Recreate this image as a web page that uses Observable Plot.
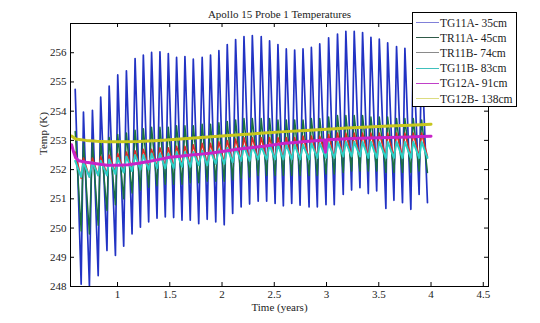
<!DOCTYPE html>
<html>
<head>
<meta charset="utf-8">
<script src="https://cdn.jsdelivr.net/npm/d3@7"></script>
<script src="https://cdn.jsdelivr.net/npm/@observablehq/plot@0.6"></script>
<style>
  html, body { margin: 0; padding: 0; background: #fff; }
  #wrap { position: relative; width: 540px; height: 323px; font-family: "Liberation Serif", "DejaVu Serif", serif; }
  #legend { position: absolute; left: 412px; top: 12px; width: 105px; height: 95px; border: 1px solid #000; background: #fff; box-sizing: border-box; padding-top: 2px; }
  .row { display: flex; align-items: center; height: 15.2px; font-size: 11.5px; color: #222; }
  .sw { width: 23px; height: 0; margin-left: 3px; margin-right: 1px; border-top: 1.2px solid; }
</style>
</head>
<body>
<div id="wrap"><div id="chart"></div><div id="legend"></div></div>
<script>
// ---- data ----
const seriesNames = ["TG11A- 35cm", "TR11A- 45cm", "TR11B- 74cm", "TG11B- 83cm", "TG12A- 91cm", "TG12B- 138cm"];
const seriesColors = ["#2233c4", "#1a7040", "#e02828", "#2ccfc6", "#c824c8", "#c6c61e"];
const legendColors = ["#8080d8", "#2f5a48", "#8a8a8a", "#40c0bc", "#c040c8", "#dcdc80"];

const peakTimes = [0.595, 0.674, 0.760, 0.839, 0.920, 1.002, 1.085, 1.168, 1.247, 1.326, 1.406, 1.486, 1.565, 1.645, 1.725, 1.81, 1.89, 1.97, 2.05, 2.13, 2.21, 2.29, 2.375, 2.455, 2.535, 2.615, 2.695, 2.775, 2.855, 2.935, 3.02, 3.105, 3.185, 3.265, 3.345, 3.425, 3.505, 3.585, 3.67, 3.75, 3.83, 3.91];
const troughTimes = [0.652, 0.731, 0.815, 0.899, 0.980, 1.059, 1.139, 1.219, 1.298, 1.378, 1.457, 1.537, 1.617, 1.696, 1.777, 1.858, 1.94, 2.021, 2.102, 2.183, 2.264, 2.346, 2.427, 2.508, 2.587, 2.667, 2.747, 2.833, 2.912, 2.995, 3.074, 3.16, 3.24, 3.32, 3.40, 3.48, 3.568, 3.645, 3.727, 3.807, 3.886, 3.966];

const tg11aPeaks = [254.75, 253.97, 254.03, 254.48, 254.86, 255.24, 255.38, 255.80, 255.92, 256.01, 256.03, 255.97, 255.84, 255.87, 255.78, 255.84, 255.92, 256.07, 256.28, 256.45, 256.55, 256.59, 256.55, 256.41, 256.28, 256.13, 256.09, 256.13, 256.18, 256.30, 256.51, 256.64, 256.73, 256.73, 256.69, 256.53, 256.47, 256.34, 256.21, 256.15, 256.1, 256.0];
const tg11aTroughs = [248.08, 248.02, 248.37, 249.23, 249.06, 249.38, 249.80, 250.03, 250.21, 250.34, 250.38, 250.36, 250.27, 250.27, 250.15, 250.3, 250.21, 250.11, 250.5, 250.72, 250.82, 250.92, 250.92, 250.84, 250.76, 250.84, 250.78, 250.72, 250.72, 250.80, 250.80, 251.15, 251.30, 251.38, 251.18, 251.27, 250.67, 250.95, 250.87, 250.64, 251.15, 250.87];

const tr11aPeaks = [253.3, 252.9, 252.9, 253.0, 253.1, 253.2, 253.25, 253.35, 253.4, 253.45, 253.45, 253.45, 253.5, 253.5, 253.5, 253.55, 253.55, 253.6, 253.65, 253.7, 253.75, 253.75, 253.75, 253.75, 253.7, 253.7, 253.7, 253.7, 253.75, 253.75, 253.8, 253.85, 253.85, 253.85, 253.85, 253.8, 253.8, 253.8, 253.75, 253.75, 253.75, 253.7];
const tr11aTroughs = [249.9, 249.8, 250.1, 250.6, 250.8, 251.0, 251.2, 251.3, 251.4, 251.45, 251.5, 251.5, 251.5, 251.55, 251.55, 251.6, 251.6, 251.6, 251.65, 251.7, 251.75, 251.8, 251.8, 251.8, 251.8, 251.8, 251.8, 251.8, 251.8, 251.85, 251.85, 251.9, 251.95, 251.95, 251.95, 251.95, 251.9, 251.9, 251.9, 251.9, 251.95, 251.9];

const tr11bPeaks = [252.6, 252.4, 252.4, 252.45, 252.5, 252.55, 252.6, 252.65, 252.7, 252.7, 252.75, 252.75, 252.8, 252.8, 252.85, 252.9, 252.9, 252.95, 253.0, 253.05, 253.1, 253.1, 253.1, 253.1, 253.1, 253.1, 253.1, 253.15, 253.15, 253.15, 253.2, 253.25, 253.25, 253.25, 253.25, 253.25, 253.25, 253.25, 253.25, 253.25, 253.25, 253.25];
const tr11bTroughs = [251.7, 251.75, 251.8, 251.85, 251.9, 251.95, 252.0, 252.0, 252.05, 252.1, 252.1, 252.1, 252.15, 252.15, 252.15, 252.2, 252.2, 252.25, 252.25, 252.3, 252.3, 252.35, 252.35, 252.35, 252.35, 252.35, 252.35, 252.35, 252.4, 252.4, 252.4, 252.45, 252.45, 252.45, 252.45, 252.45, 252.45, 252.45, 252.45, 252.45, 252.45, 252.45];

const tg11bPeaks = [252.3, 252.25, 252.25, 252.3, 252.35, 252.4, 252.45, 252.5, 252.5, 252.55, 252.55, 252.55, 252.6, 252.6, 252.6, 252.65, 252.65, 252.7, 252.75, 252.75, 252.8, 252.8, 252.8, 252.85, 252.85, 252.85, 252.85, 252.85, 252.9, 252.9, 252.9, 252.95, 252.95, 252.95, 252.95, 252.95, 252.95, 252.95, 252.95, 252.95, 252.95, 252.95];
const tg11bTroughs = [251.75, 251.75, 251.8, 251.8, 251.85, 251.9, 251.95, 252.0, 252.0, 252.05, 252.05, 252.05, 252.1, 252.1, 252.15, 252.15, 252.2, 252.2, 252.25, 252.3, 252.3, 252.35, 252.35, 252.35, 252.35, 252.35, 252.35, 252.35, 252.4, 252.4, 252.4, 252.45, 252.45, 252.45, 252.4, 252.4, 252.4, 252.4, 252.4, 252.4, 252.4, 252.4];

const tg12aTimes = [0.56, 0.58, 0.60, 0.63, 0.70, 0.80, 0.90, 1.00, 1.10, 1.20, 1.30, 1.40, 1.50, 1.60, 1.70, 1.80, 1.90, 2.00, 2.10, 2.20, 2.30, 2.40, 2.50, 2.60, 2.70, 2.80, 2.90, 2.98, 2.99, 3.00, 3.10, 3.20, 3.30, 3.40, 3.50, 3.60, 3.70, 3.80, 3.90, 4.00];
const tg12aValues = [252.85, 252.6, 252.4, 252.3, 252.25, 252.2, 252.15, 252.15, 252.17, 252.22, 252.28, 252.35, 252.42, 252.46, 252.5, 252.53, 252.57, 252.62, 252.67, 252.72, 252.76, 252.8, 252.85, 252.9, 252.93, 252.96, 252.99, 253.01, 252.6, 253.02, 253.04, 253.06, 253.07, 253.08, 253.09, 253.1, 253.11, 253.12, 253.13, 253.14];

const tg12bTimes = [0.56, 0.60, 0.70, 0.80, 0.90, 1.00, 1.20, 1.40, 1.60, 1.80, 2.00, 2.20, 2.40, 2.60, 2.80, 3.00, 3.20, 3.40, 3.60, 3.80, 4.00];
const tg12bValues = [253.15, 253.05, 253.0, 252.97, 252.95, 252.95, 252.96, 253.0, 253.05, 253.1, 253.15, 253.2, 253.25, 253.3, 253.34, 253.38, 253.42, 253.46, 253.49, 253.52, 253.55];

const xTicks = [1, 1.5, 2, 2.5, 3, 3.5, 4, 4.5];
const xTickLabels = ["1", "1.5", "2", "2.5", "3", "3.5", "4", "4.5"];
const yTicks = [248, 249, 250, 251, 252, 253, 254, 255, 256];

// ---- build tables ----
function zigzag(name, peaks, troughs) {
  const rows = peakTimes.map((t, i) => ({t, v: peaks[i], s: name}))
    .concat(troughTimes.map((t, i) => ({t, v: troughs[i], s: name})));
  return rows.sort((a, b) => a.t - b.t);
}
const osc = [
  zigzag(seriesNames[0], tg11aPeaks, tg11aTroughs),
  zigzag(seriesNames[1], tr11aPeaks, tr11aTroughs),
  zigzag(seriesNames[2], tr11bPeaks, tr11bTroughs),
  zigzag(seriesNames[3], tg11bPeaks, tg11bTroughs)
];
const tg12a = tg12aTimes.map((t, i) => ({t, v: tg12aValues[i]}));
const tg12b = tg12bTimes.map((t, i) => ({t, v: tg12bValues[i]}));
const xTickRows = xTicks.map((x, i) => ({x, label: xTickLabels[i]}));

const W = 540, H = 323, mL = 70, mR = 52, mT = 23, mB = 37;
const fH = H - mT - mB, fW = W - mL - mR;
const tk = 4;
const serif = "Liberation Serif";

const chart = Plot.plot({
  width: W, height: H,
  marginLeft: mL, marginRight: mR, marginTop: mT, marginBottom: mB,
  style: {fontFamily: serif, fontSize: "11px", color: "#222", background: "#fff"},
  x: {domain: [0.55, 4.55], axis: null},
  y: {domain: [248, 257], axis: null},
  marks: [
    Plot.lineY(osc[0], {x: "t", y: "v", stroke: seriesColors[0], strokeWidth: 1.7}),
    Plot.lineY(osc[1], {x: "t", y: "v", stroke: seriesColors[1], strokeWidth: 1.5}),
    Plot.lineY(osc[2], {x: "t", y: "v", stroke: seriesColors[2], strokeWidth: 1.5}),
    Plot.lineY(osc[3], {x: "t", y: "v", stroke: seriesColors[3], strokeWidth: 2}),
    Plot.lineY(tg12a, {x: "t", y: "v", stroke: seriesColors[4], strokeWidth: 3}),
    Plot.lineY(tg12b, {x: "t", y: "v", stroke: seriesColors[5], strokeWidth: 3}),
    Plot.frame({stroke: "#000", strokeWidth: 1}),
    // inward ticks on all four sides
    Plot.ruleX(xTicks, {x: d => d, insetTop: fH - tk, stroke: "#000"}),
    Plot.ruleX(xTicks, {x: d => d, insetBottom: fH - tk, stroke: "#000"}),
    Plot.ruleY(yTicks, {y: d => d, insetRight: fW - tk, stroke: "#000"}),
    Plot.ruleY(yTicks, {y: d => d, insetLeft: fW - tk, stroke: "#000"}),
    // tick labels
    Plot.text(xTickRows, {x: "x", text: "label", frameAnchor: "bottom", lineAnchor: "top", dy: 4, fontSize: 11, fontFamily: serif, fill: "#222"}),
    Plot.text(yTicks, {y: d => d, text: d => String(d), frameAnchor: "left", textAnchor: "end", dx: -4, fontSize: 11, fontFamily: serif, fill: "#222"}),
    Plot.text(["Apollo 15 Probe 1 Temperatures"], {frameAnchor: "top", lineAnchor: "bottom", dy: -6, fontSize: 11, fontFamily: serif, fill: "#222"}),
    Plot.text(["Time (years)"], {frameAnchor: "bottom", lineAnchor: "top", dy: 17, fontSize: 11, fontFamily: serif, fill: "#222"}),
    Plot.text(["Temp (K)"], {frameAnchor: "left", rotate: -90, dx: -27, fontSize: 11, fontFamily: serif, fill: "#222"})
  ]
});
document.getElementById("chart").appendChild(chart);

const lg = document.getElementById("legend");
seriesNames.forEach((n, i) => {
  const r = document.createElement("div");
  r.className = "row";
  const s = document.createElement("span");
  s.className = "sw";
  s.style.borderTopColor = legendColors[i];
  const t = document.createElement("span");
  t.textContent = n;
  r.appendChild(s); r.appendChild(t);
  lg.appendChild(r);
});
</script>
</body>
</html>
